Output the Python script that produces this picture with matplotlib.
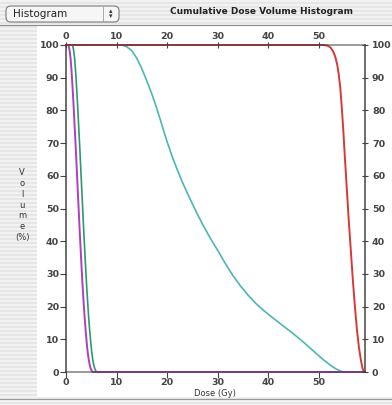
import numpy as np
import matplotlib
matplotlib.use("Agg")
import matplotlib.pyplot as plt
from matplotlib.patches import Rectangle, FancyBboxPatch

# dose (Gy) / volume (%) points
cyan_dose = [0, 11.0, 12.0, 13.0, 14.0, 15.0, 16.0, 17.0, 18.0, 19.0, 20.0, 21.0, 22.0, 23.0,
             24.0, 25.0, 26.0, 27.0, 28.0, 29.0, 30.0, 31.5, 33.0, 34.5, 36.0, 37.5, 39.0,
             40.5, 42.0, 43.5, 45.0, 46.5, 48.0, 49.5, 51.0, 52.5, 53.5, 54.5, 55.0, 59.2]
cyan_vol = [100, 100, 99.5, 98.3, 96, 92.8, 89, 85, 80.5, 75.5, 70.5, 66, 62, 58.2,
            54.8, 51.5, 48.3, 45.3, 42.5, 39.8, 37.3, 33.3, 29.6, 26.4, 23.6, 21.1, 19.0,
            17.1, 15.3, 13.5, 11.7, 9.8, 7.8, 5.7, 3.7, 1.9, 0.9, 0.2, 0, 0]

red_dose = [0, 51.0, 51.8, 52.4, 52.9, 53.3, 53.7, 54.0, 54.3, 54.6, 54.9, 55.2, 55.6,
            56.0, 56.4, 56.8, 57.2, 57.6, 58.0, 58.4, 58.7, 59.0]
red_vol = [100, 100, 99.8, 99.2, 98, 96.5, 94, 91, 87, 81, 74, 66, 56,
           46, 37, 28, 20, 13, 7.5, 3.5, 1.2, 0]

green_dose = [1.3, 1.5, 1.7, 1.9, 2.1, 2.3, 2.5, 2.7, 2.9, 3.1, 3.3, 3.5, 3.7, 3.9, 4.1,
              4.3, 4.5, 4.7, 4.9, 5.1, 5.3, 5.5, 5.7, 5.9, 6.2]
green_vol = [100, 98.5, 96, 92, 87, 81.5, 75.5, 69.5, 63, 56.5, 50, 43.5, 37.5, 31.5, 26,
             21, 16.5, 12.5, 9, 6, 3.8, 2.1, 1, 0.3, 0]

purple_dose = [0.5, 0.7, 0.9, 1.1, 1.3, 1.5, 1.7, 1.9, 2.1, 2.3, 2.5, 2.7, 2.9, 3.1, 3.3,
               3.5, 3.7, 3.9, 4.1, 4.3, 4.5, 4.7, 4.9, 5.1, 5.3, 59.2]
purple_vol = [100, 98.5, 96, 92, 87, 81.5, 75.5, 69.5, 63, 56.5, 50, 43.5, 37.5, 31.5, 26,
              21, 16.5, 12.5, 9, 6, 3.8, 2.1, 1, 0.3, 0, 0]

xticks = [0, 10, 20, 30, 40, 50]
yticks = [0, 10, 20, 30, 40, 50, 60, 70, 80, 90, 100]

W, H = 392, 405
fig = plt.figure(figsize=(W / 100, H / 100), dpi=100)
fig.patch.set_facecolor("#e6e6e6")

# aqua pinstripes
for yy in range(0, H, 4):
    fig.patches.append(Rectangle((0, 1 - (yy + 2) / H), 1, 2 / H, transform=fig.transFigure,
                                 facecolor="#f2f2f2", edgecolor="none", zorder=-10))

# white panel
fig.patches.append(Rectangle((37 / W, 1 - 397 / H), 1, (397 - 25) / H, transform=fig.transFigure,
                             facecolor="white", edgecolor="none", zorder=-5))
fig.add_artist(plt.Line2D([0, 1], [1 - 25 / H] * 2, color="#8a8a8a", lw=0.8))
fig.add_artist(plt.Line2D([0, 1], [1 - 399 / H] * 2, color="#9a9a9a", lw=0.8))

# popup button
btn = FancyBboxPatch((6 / W, 1 - 22 / H), 113 / W, 16 / H, boxstyle="round,pad=0,rounding_size=0.012",
                     transform=fig.transFigure, facecolor="#f6f6f6", edgecolor="#7a7a7a", lw=0.8)
fig.patches.append(btn)
fig.add_artist(plt.Line2D([103 / W] * 2, [1 - 21 / H, 1 - 7 / H], color="#9a9a9a", lw=0.6))
fig.text(13 / W, 1 - 14 / H, "Histogram", fontsize=7.5, va="center", ha="left", color="#222222")
fig.text(111 / W, 1 - 11.5 / H, "\u25b4", fontsize=5, va="center", ha="center", color="#333333")
fig.text(111 / W, 1 - 16 / H, "\u25be", fontsize=5, va="center", ha="center", color="#333333")
fig.text(262 / W, 1 - 12 / H, "Cumulative Dose Volume Histogram", fontsize=6.5, fontweight="bold",
         va="center", ha="center", color="#222222")

ax = fig.add_axes([66 / W, 1 - 372 / H, (365 - 66) / W, (372 - 45) / H])
ax.set_facecolor("white")
ax.plot(cyan_dose, cyan_vol, color="#4cb6b6", lw=1.2, zorder=3, clip_on=False)
ax.plot(green_dose, green_vol, color="#2a9a70", lw=1.2, zorder=3, clip_on=False)
ax.plot(purple_dose, purple_vol, color="#b23cc4", lw=1.4, zorder=4, clip_on=False)
ax.plot(red_dose, red_vol, color="#d83838", lw=1.4, zorder=4, clip_on=False)

ax.set_xlim(0, 59.2)
ax.set_ylim(0, 100)
ax.set_xticks(xticks)
ax.set_yticks(yticks)
for s in ["top", "bottom", "left", "right"]:
    ax.spines[s].set_color("#3a3a3a")
    ax.spines[s].set_linewidth(1.3)
    ax.spines[s].set_alpha(0.55)
    ax.spines[s].set_zorder(5)
ax.spines["left"].set_alpha(0.8)
ax.spines["right"].set_alpha(0.8)

tick_kw = dict(length=4, width=0.8, color="#444444", labelsize=6.8, labelcolor="#444444")
ax.tick_params(axis="x", direction="out", pad=0.5, **tick_kw)
ax.tick_params(axis="y", direction="out", pad=1, **tick_kw)

# top and right scales
axt = ax.twiny()
axt.set_xlim(ax.get_xlim())
axt.set_xticks(xticks)
axt.tick_params(axis="x", direction="inout", pad=1, **tick_kw)
axr = ax.twinx()
axr.set_ylim(ax.get_ylim())
axr.set_yticks(yticks)
axr.tick_params(axis="y", direction="inout", pad=3, **tick_kw)
for a in (axt, axr):
    for s in a.spines.values():
        s.set_visible(False)

for lab in (ax.get_xticklabels() + ax.get_yticklabels() + axt.get_xticklabels()
            + axr.get_yticklabels()):
    lab.set_fontweight("semibold")

fig.text(215 / W, 1 - 393 / H, "Dose (Gy)", fontsize=6, ha="center", va="center", color="#333333")
fig.text(22 / W, 1 - 205 / H, "V\no\nl\nu\nm\ne\n(%)", fontsize=6, ha="center", va="center",
         linespacing=1.25, color="#333333")

fig.savefig("out.png", dpi=100, facecolor=fig.get_facecolor())
